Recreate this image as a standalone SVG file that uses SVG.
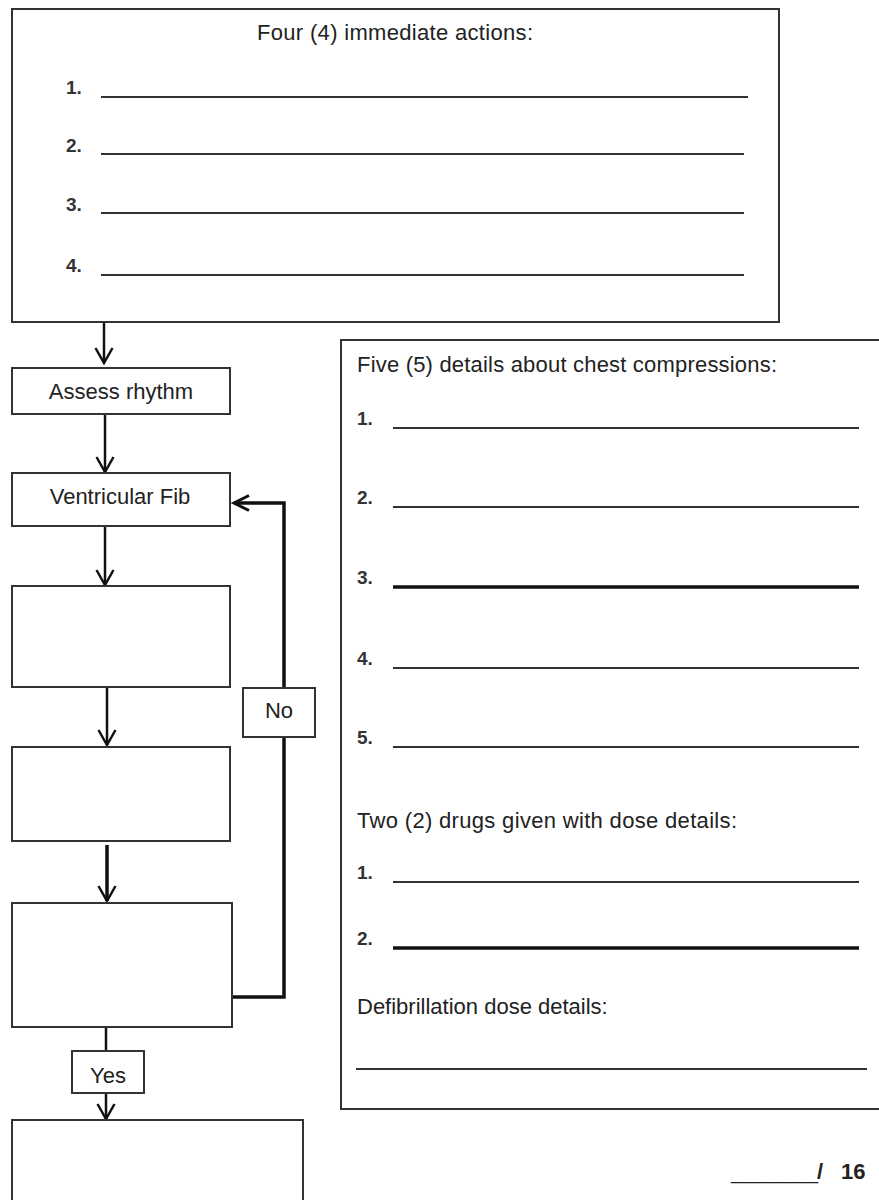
<svg xmlns="http://www.w3.org/2000/svg" width="879" height="1200" viewBox="0 0 879 1200">
<defs>
<style>
.box{fill:#fff;stroke:#333;stroke-width:2}
.t{font-family:"Liberation Sans",Arial,sans-serif;font-size:22px;fill:#222}
.n{font-family:"Liberation Sans",Arial,sans-serif;font-size:19px;font-weight:bold;fill:#333}
.ln{stroke:#333;stroke-width:2}
.lnb{stroke:#111;stroke-width:3.5}
.c{fill:none;stroke:#111;stroke-width:2.5}
.cb{fill:none;stroke:#111;stroke-width:3.5}
</style>
<marker id="ad" markerUnits="userSpaceOnUse" markerWidth="24" markerHeight="24" viewBox="-20 -12 24 24" refX="0" refY="0" orient="auto">
<path d="M-15,-8.5 L0,0 L-15,8.5" fill="none" stroke="#111" stroke-width="2.5"/>
</marker>
<marker id="ah" markerUnits="userSpaceOnUse" markerWidth="24" markerHeight="24" viewBox="-20 -12 24 24" refX="0" refY="0" orient="auto">
<path d="M-15,-7.5 L0,0 L-15,7.5" fill="none" stroke="#111" stroke-width="3"/>
</marker>
</defs>
<rect width="879" height="1200" fill="#fff"/>

<g id="connectors">
<line class="c" x1="104" y1="323" x2="104" y2="363" marker-end="url(#ad)"/>
<line class="c" x1="105" y1="415" x2="105" y2="472" marker-end="url(#ad)"/>
<line class="c" x1="105" y1="527" x2="105" y2="585" marker-end="url(#ad)"/>
<line class="c" x1="107" y1="688" x2="107" y2="745" marker-end="url(#ad)"/>
<line class="cb" x1="107" y1="845" x2="107" y2="901" marker-end="url(#ad)"/>
<path class="cb" d="M232,997 H284 V503 H234" marker-end="url(#ah)"/>
<line class="c" x1="106" y1="1028" x2="106" y2="1051"/>
<line class="c" x1="106" y1="1093" x2="106" y2="1119" marker-end="url(#ad)"/>
</g>

<g id="immediate-actions">
<rect class="box" x="12" y="9" width="767" height="313"/>
<text class="t" x="257" y="40" textLength="276">Four (4) immediate actions:</text>
<text class="n" x="66" y="94">1.</text>
<line class="ln" x1="101" y1="97" x2="748" y2="97"/>
<text class="n" x="66" y="152">2.</text>
<line class="ln" x1="101" y1="154" x2="744" y2="154"/>
<text class="n" x="66" y="211">3.</text>
<line class="ln" x1="101" y1="213" x2="744" y2="213"/>
<text class="n" x="66" y="272">4.</text>
<line class="ln" x1="101" y1="275" x2="744" y2="275"/>
</g>

<g id="assess-rhythm">
<rect class="box" x="12" y="368" width="218" height="46"/>
<text class="t" x="121" y="399" text-anchor="middle">Assess rhythm</text>
</g>

<g id="ventricular-fib">
<rect class="box" x="12" y="473" width="218" height="53"/>
<text class="t" x="120" y="504" text-anchor="middle">Ventricular Fib</text>
</g>

<g id="step-1">
<rect class="box" x="12" y="586" width="218" height="101"/>
</g>

<g id="step-2">
<rect class="box" x="12" y="747" width="218" height="94"/>
</g>

<g id="step-3">
<rect class="box" x="12" y="903" width="220" height="124"/>
</g>

<g id="no-label">
<rect class="box" x="243" y="688" width="72" height="49"/>
<text class="t" x="279" y="718" text-anchor="middle">No</text>
</g>

<g id="yes-label">
<rect class="box" x="72" y="1051" width="72" height="42"/>
<text class="t" x="108" y="1083" text-anchor="middle">Yes</text>
</g>

<g id="final-step">
<rect class="box" x="12" y="1120" width="291" height="100"/>
</g>

<g id="details-panel">
<rect class="box" x="341" y="340" width="560" height="769"/>
<text class="t" x="357" y="372" textLength="420">Five (5) details about chest compressions:</text>
<text class="n" x="357" y="425">1.</text>
<line class="ln" x1="393" y1="428" x2="859" y2="428"/>
<text class="n" x="357" y="504">2.</text>
<line class="ln" x1="393" y1="507" x2="859" y2="507"/>
<text class="n" x="357" y="584">3.</text>
<line class="lnb" x1="393" y1="587" x2="859" y2="587"/>
<text class="n" x="357" y="665">4.</text>
<line class="ln" x1="393" y1="668" x2="859" y2="668"/>
<text class="n" x="357" y="744">5.</text>
<line class="ln" x1="393" y1="747" x2="859" y2="747"/>
<text class="t" x="357" y="828" textLength="380">Two (2) drugs given with dose details:</text>
<text class="n" x="357" y="879">1.</text>
<line class="ln" x1="393" y1="882" x2="859" y2="882"/>
<text class="n" x="357" y="945">2.</text>
<line class="lnb" x1="393" y1="948" x2="859" y2="948"/>
<text class="t" x="357" y="1014">Defibrillation dose details:</text>
<line class="ln" x1="356" y1="1069" x2="867" y2="1069"/>
</g>

<g id="score">
<text class="t" font-weight="bold" font-size="26"><tspan x="731" y="1179" textLength="87" lengthAdjust="spacingAndGlyphs" font-weight="normal" font-size="22">______</tspan><tspan x="817" y="1179">/ </tspan><tspan x="841" y="1179">16</tspan></text>
</g>
</svg>
